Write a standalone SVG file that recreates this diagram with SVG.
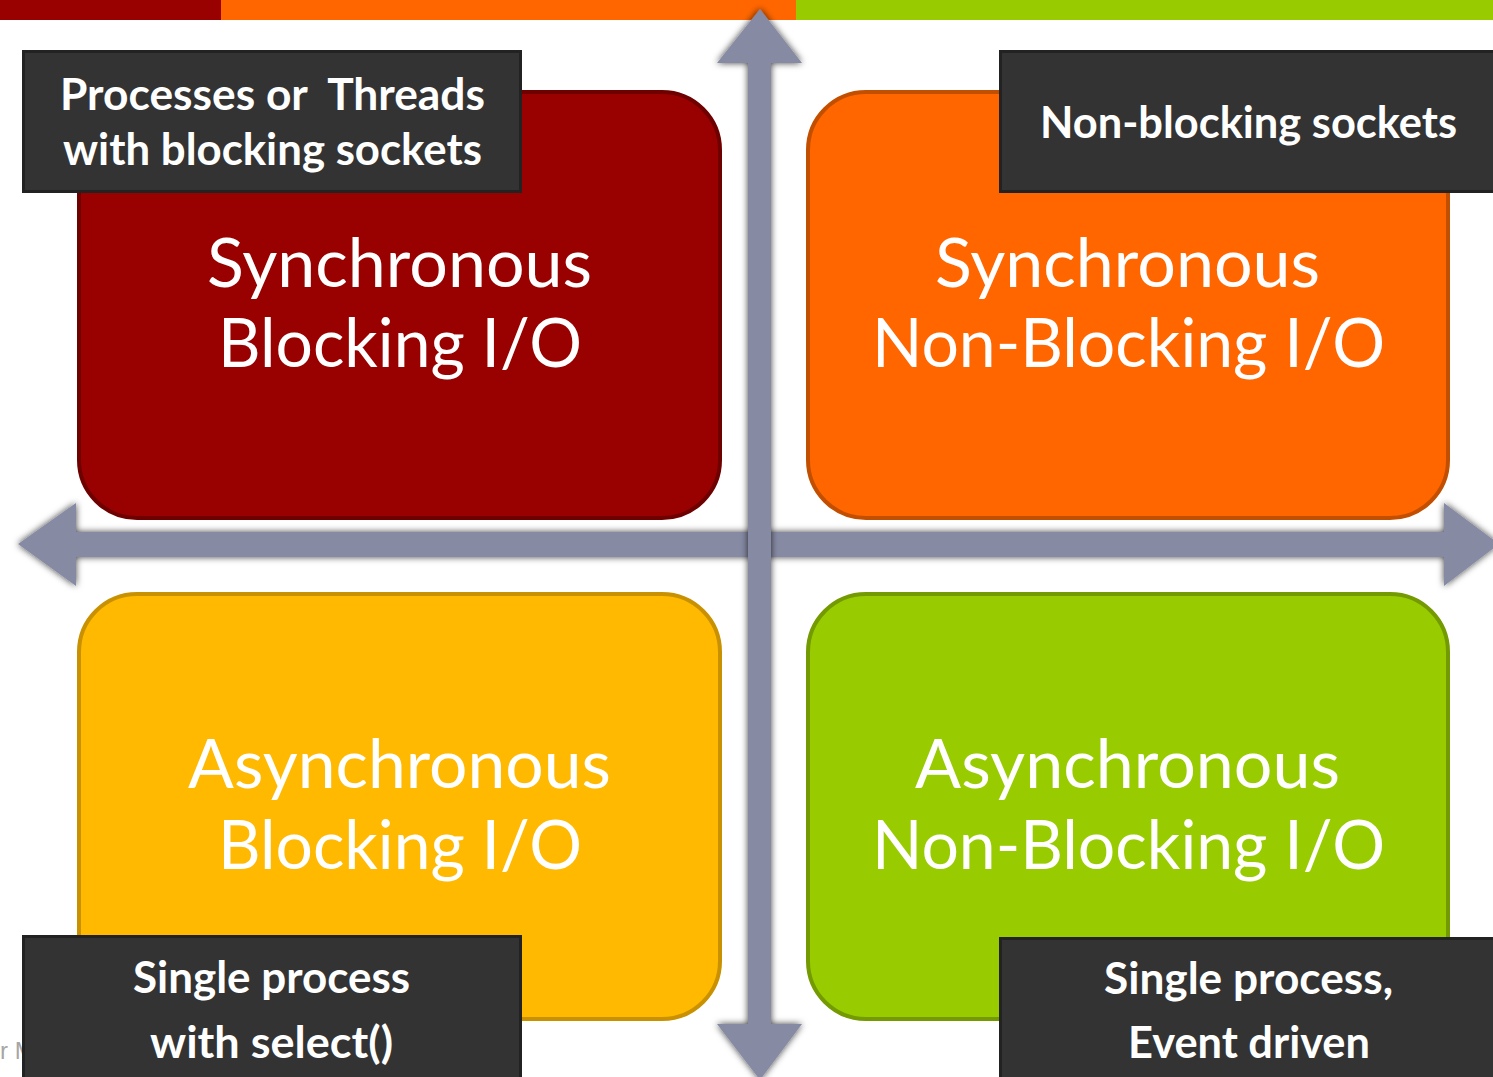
<svg xmlns="http://www.w3.org/2000/svg" width="1493" height="1077" viewBox="0 0 1493 1077">
  <defs>
    <filter id="shadow" x="-10%" y="-10%" width="120%" height="120%">
      <feDropShadow dx="0" dy="0" stdDeviation="3.5" flood-color="#000" flood-opacity="0.75"/>
    </filter>
    <style>
      .big { font-family: Lato, "Open Sans", "Liberation Sans", sans-serif; font-size: 68px; fill: #ffffff; text-anchor: start; }
      .lbl { font-family: Lato, "Open Sans", "Liberation Sans", sans-serif; font-size: 43px; font-weight: bold; fill: #ffffff; white-space: pre; }
      .labelbox { fill: #333333; stroke: #222222; stroke-width: 3; }
      .arrow { fill: #868aa3; filter: url(#shadow); }
    </style>
  </defs>
  <rect x="0" y="0" width="1493" height="1077" fill="#ffffff"/>
  <g id="topbar">
    <rect x="0" y="0" width="221" height="20" fill="#990000"/>
    <rect x="221" y="0" width="575" height="20" fill="#ff6600"/>
    <rect x="796" y="0" width="697" height="20" fill="#99cc00"/>
  </g>
  <text x="0" y="1059" font-family="Liberation Sans, sans-serif" font-size="24" fill="#a6a6a6">r M</text>

  <g id="sync-blocking">
    <rect x="79" y="92" width="641" height="426" rx="58" fill="#990000" stroke="#6e0000" stroke-width="4"/>
    <text class="big" x="207" y="287" textLength="385" lengthAdjust="spacingAndGlyphs">Synchronous</text>
    <text class="big" x="218" y="367" textLength="364" lengthAdjust="spacingAndGlyphs">Blocking I/O</text>
  </g>
  <g id="sync-nonblocking">
    <rect x="808" y="92" width="640" height="426" rx="58" fill="#ff6600" stroke="#c24f00" stroke-width="4"/>
    <text class="big" x="935" y="287" textLength="385" lengthAdjust="spacingAndGlyphs">Synchronous</text>
    <text class="big" x="872" y="367" textLength="513" lengthAdjust="spacingAndGlyphs">Non-Blocking I/O</text>
  </g>
  <g id="async-blocking">
    <rect x="79" y="594" width="641" height="425" rx="58" fill="#ffb900" stroke="#c99100" stroke-width="4"/>
    <text class="big" x="188" y="788" textLength="423" lengthAdjust="spacingAndGlyphs">Asynchronous</text>
    <text class="big" x="218" y="869" textLength="364" lengthAdjust="spacingAndGlyphs">Blocking I/O</text>
  </g>
  <g id="async-nonblocking">
    <rect x="808" y="594" width="640" height="425" rx="58" fill="#99cc00" stroke="#739a00" stroke-width="4"/>
    <text class="big" x="915" y="788" textLength="425" lengthAdjust="spacingAndGlyphs">Asynchronous</text>
    <text class="big" x="872" y="869" textLength="513" lengthAdjust="spacingAndGlyphs">Non-Blocking I/O</text>
  </g>

  <g id="connectors">
    <polygon class="arrow" points="18,544 76,503 76,532 1444,532 1444,503 1499,544 1444,586 1444,557 76,557 76,586"/>
    <polygon class="arrow" points="760,9 802,63 771,63 771,1024 802,1024 760,1080 717,1024 748,1024 748,63 717,63"/>
  </g>

  <g id="label-threads">
    <rect class="labelbox" x="23.5" y="51.5" width="497" height="140"/>
    <text class="lbl" x="60" y="110" textLength="425" lengthAdjust="spacingAndGlyphs" xml:space="preserve">Processes or  Threads</text>
    <text class="lbl" x="63" y="165" textLength="419" lengthAdjust="spacingAndGlyphs">with blocking sockets</text>
  </g>
  <g id="label-nonblocking">
    <rect class="labelbox" x="1000.5" y="51.5" width="500" height="140"/>
    <text class="lbl" x="1040" y="138" textLength="417" lengthAdjust="spacingAndGlyphs">Non-blocking sockets</text>
  </g>
  <g id="label-select">
    <rect class="labelbox" x="23.5" y="936.5" width="497" height="150"/>
    <text class="lbl" x="133" y="993" textLength="277" lengthAdjust="spacingAndGlyphs">Single process</text>
    <text class="lbl" x="150" y="1058" textLength="243" lengthAdjust="spacingAndGlyphs">with select()</text>
  </g>
  <g id="label-event">
    <rect class="labelbox" x="1000.5" y="938.5" width="500" height="150"/>
    <text class="lbl" x="1104" y="994" textLength="289" lengthAdjust="spacingAndGlyphs">Single process,</text>
    <text class="lbl" x="1128" y="1058" textLength="242" lengthAdjust="spacingAndGlyphs">Event driven</text>
  </g>
</svg>
